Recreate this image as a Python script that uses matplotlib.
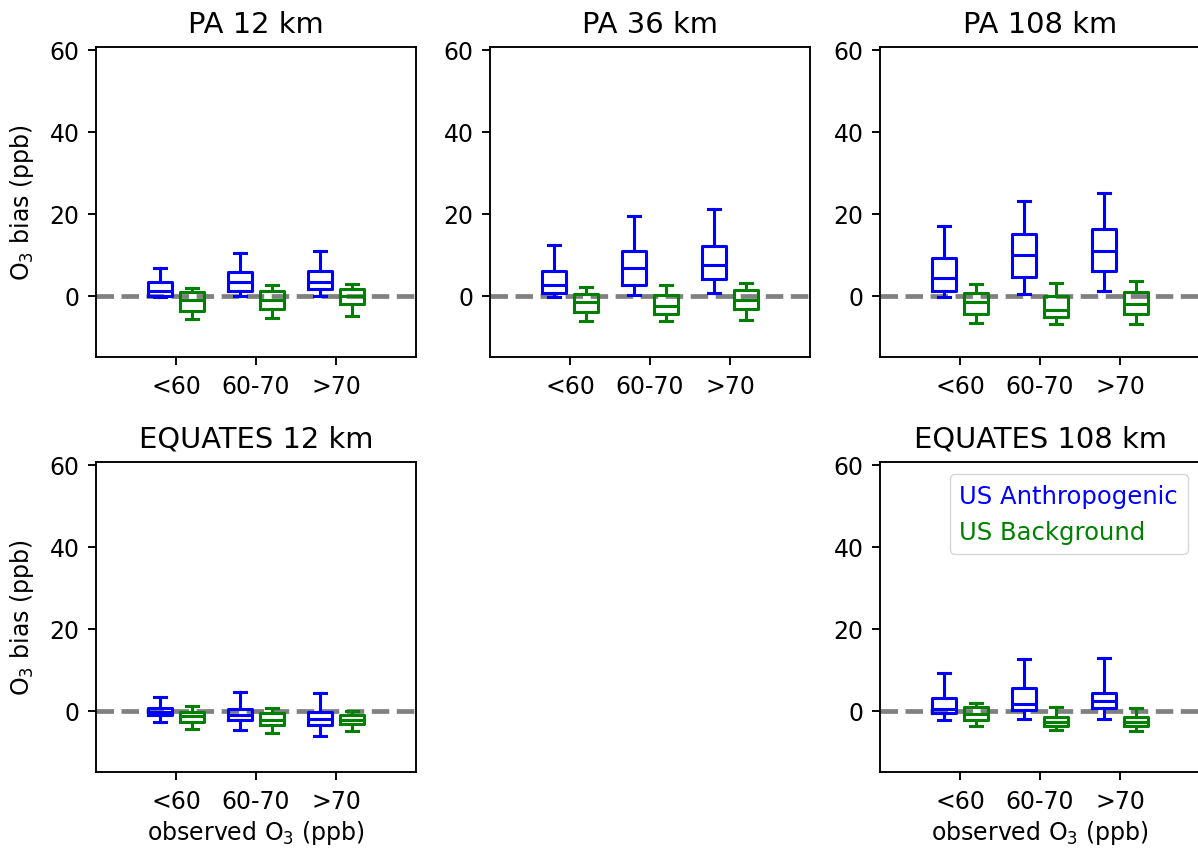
import numpy as np
import matplotlib
matplotlib.use("Agg")
import matplotlib.pyplot as plt

# observed O3 bins
categories = ["<60", "60-70", ">70"]

# box stats per panel: [whislo, q1, med, q3, whishi] for each bin
pa12_anth = [[-0.3, 0.0, 1.2, 3.3, 6.8], [0.0, 1.0, 3.3, 5.7, 10.4], [0.0, 1.6, 3.4, 6.0, 11.0]]
pa12_bg = [[-5.7, -3.7, -1.2, 0.8, 1.9], [-5.4, -3.3, -1.2, 1.0, 2.5], [-5.0, -2.0, -0.2, 1.6, 2.8]]

pa36_anth = [[-0.3, 0.6, 2.6, 6.0, 12.4], [0.25, 2.7, 6.8, 10.9, 19.4], [0.7, 4.1, 7.35, 12.1, 21.2]]
pa36_bg = [[-6.2, -4.1, -1.6, 0.3, 2.2], [-6.2, -4.5, -2.45, 0.1, 2.6], [-5.9, -3.3, -1.0, 1.4, 3.1]]

pa108_anth = [[-0.4, 1.15, 4.4, 9.2, 17.0], [0.3, 4.6, 10.0, 15.0, 23.1], [1.0, 6.0, 10.9, 16.3, 25.1]]
pa108_bg = [[-6.6, -4.6, -1.55, 0.65, 2.9], [-6.9, -5.3, -3.6, 0.0, 3.0], [-6.9, -4.4, -2.0, 0.9, 3.5]]

eq12_anth = [[-2.7, -1.2, -0.25, 0.6, 3.3], [-4.8, -2.3, -1.05, 0.4, 4.5], [-6.25, -3.5, -2.0, -0.4, 4.25]]
eq12_bg = [[-4.5, -2.8, -1.4, -0.25, 1.1], [-5.4, -3.5, -2.2, -0.6, 0.6], [-5.0, -3.25, -2.2, -1.05, 0.0]]

eq108_anth = [[-2.35, -0.55, 0.4, 3.1, 9.2], [-2.1, 0.2, 1.5, 5.5, 12.6], [-1.95, 0.65, 2.3, 4.25, 12.8]]
eq108_bg = [[-3.65, -2.35, -0.8, 0.9, 1.9], [-4.7, -3.8, -2.7, -1.6, 0.8], [-4.9, -3.8, -2.85, -1.45, 0.6]]

titles = ["PA 12 km", "PA 36 km", "PA 108 km", "EQUATES 12 km", "EQUATES 108 km"]
anth = [pa12_anth, pa36_anth, pa108_anth, eq12_anth, eq108_anth]
bg = [pa12_bg, pa36_bg, pa108_bg, eq12_bg, eq108_bg]

# the original looks like a 10pt figure rendered ~1.7x larger
s = 1.7
plt.rcParams["font.size"] = 10 * s
plt.rcParams["axes.linewidth"] = 0.8 * s
plt.rcParams["xtick.major.width"] = 0.8 * s
plt.rcParams["ytick.major.width"] = 0.8 * s
plt.rcParams["xtick.major.size"] = 3.5 * s
plt.rcParams["ytick.major.size"] = 3.5 * s
plt.rcParams["xtick.major.pad"] = 3.5 * s
plt.rcParams["ytick.major.pad"] = 3.5 * s

W, H = 1198, 853
fig = plt.figure(figsize=(W / 100, H / 100), dpi=100)

# axes rectangles in pixels (left, top, right, bottom)
rects = [(96, 48, 416, 358), (490, 48, 810, 358), (880, 48, 1200, 358),
         (96, 463, 416, 773), (880, 463, 1200, 773)]


def to_stats(rows):
    out = []
    for r in rows:
        out.append(dict(whislo=r[0], q1=r[1], med=r[2], q3=r[3], whishi=r[4], fliers=[]))
    return out


pos = np.arange(1, len(categories) + 1)

for i in range(5):
    l, t, r, b = rects[i]
    ax = fig.add_axes([l / W, 1 - b / H, (r - l) / W, (b - t) / H])

    for data, col, off in [(anth[i], "blue", -0.2), (bg[i], "green", 0.2)]:
        props = dict(color=col, linewidth=1.3 * s)
        ax.bxp(to_stats(data), positions=pos + off, widths=0.3, showfliers=False,
               boxprops=props, whiskerprops=props, capprops=props,
               medianprops=props, manage_ticks=False)

    ax.axhline(0, color="gray", linestyle="--", linewidth=2 * s, zorder=0)
    ax.set_xlim(0, 4)
    ax.set_ylim(-15, 60.7)
    ax.set_xticks(pos)
    ax.set_xticklabels(categories)
    ax.set_yticks([0, 20, 40, 60])
    ax.set_title(titles[i], fontsize=12.3 * s, pad=6.5 * s)

    if i in (0, 3):
        ax.set_ylabel("O$_3$ bias (ppb)", labelpad=4 * s + 3)
    if i >= 3:
        ax.set_xlabel("observed O$_3$ (ppb)")

    if i == 4:
        h1 = plt.Line2D([], [], color="none")
        leg = ax.legend([h1, h1], ["US Anthropogenic", "US Background"],
                        loc="upper right", handlelength=0, handletextpad=0,
                        fontsize=10.3 * s)
        leg.get_texts()[0].set_color("blue")
        leg.get_texts()[1].set_color("green")

fig.savefig("out.png", dpi=100)
